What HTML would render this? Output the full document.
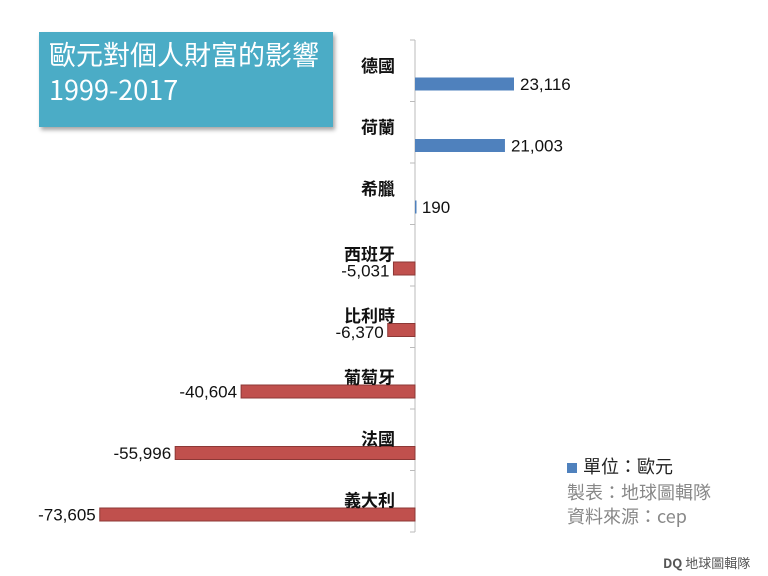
<!DOCTYPE html>
<html><head><meta charset="utf-8"><style>
body{margin:0;background:#fff;width:768px;height:576px;overflow:hidden;position:relative;font-family:"Liberation Sans","Noto Sans CJK TC",sans-serif}
#title{position:absolute;left:39px;top:32px;width:294px;height:95px;background:#4bacc6;box-shadow:2px 3px 4px rgba(0,0,0,.35);color:#fff;font-size:27px;line-height:35px;padding:4px 0 0 10px;box-sizing:border-box;font-family:"Noto Sans CJK TC",sans-serif}
.note{position:absolute;font-family:"Noto Sans CJK TC",sans-serif;font-size:18px}
</style></head><body>
<div id="title">歐元對個人財富的影響<br>1999-2017</div>
<svg id="chart" width="768" height="576" style="position:absolute;left:0;top:0"></svg>
<div class="note" style="left:567px;top:453px;color:#222"><span style="display:inline-block;width:10px;height:10px;background:#4f81bd;margin-right:6px"></span>單位：歐元</div>
<div class="note" style="left:567px;top:479px;color:#888">製表：地球圖輯隊</div>
<div class="note" style="left:567px;top:503px;color:#888">資料來源：cep</div>
<div class="note" style="left:663px;top:553px;font-size:13px;color:#555"><b>DQ</b> 地球圖輯隊</div>
<script>
const categories=["德國","荷蘭","希臘","西班牙","比利時","葡萄牙","法國","義大利"];
const values=[23116,21003,190,-5031,-6370,-40604,-55996,-73605];
const labels=["23,116","21,003","190","-5,031","-6,370","-40,604","-55,996","-73,605"];
const NS="http://www.w3.org/2000/svg";
const svg=document.getElementById("chart");
const x0=415,k=99/23116,top0=40,band=61.5;
const xs=v=>x0+v*k;
const ys=i=>top0+i*band;
function mk(t,a){const e=document.createElementNS(NS,t);for(const n in a)e.setAttribute(n,a[n]);svg.appendChild(e);return e;}
const ax=mk("line",{x1:x0,x2:x0,y1:top0,y2:ys(categories.length),stroke:"#bbb"});


for(let i=0;i<=categories.length;i++){
 const t=mk("line",{x1:x0-5,x2:x0,y1:ys(i),y2:ys(i),stroke:"#bbb"});
 
 
}
values.forEach((v,i)=>{
 const c=ys(i)+44,pos=v>=0;
 const x1=Math.min(xs(v),x0),w=Math.max(Math.abs(xs(v)-x0),1.5);
 const b=mk("rect",{x:x1,y:c-6.5,width:w,height:13,fill:pos?"#4f81bd":"#c0504d",stroke:pos?"#4f81bd":"#8c3836","stroke-width":pos?0:1});
 
 
 const n=mk("text",{x:395,y:c-8,"text-anchor":"end","font-size":17,fill:"#111","font-weight":"bold","font-family":"Noto Sans CJK TC,sans-serif"});
 n.textContent=categories[i];
 if(pos){n.setAttribute("y",c-12);}
 
 
 const small=!pos&&Math.abs(xs(v)-x0)<40;
 const l=mk("text",{x:pos?Math.max(xs(v),x0)+6:x1-4,y:small?c+8:c+6,"text-anchor":pos?"start":"end","font-size":17,fill:"#111"});
 l.textContent=labels[i];
 
 
});
</script>
</body></html>
